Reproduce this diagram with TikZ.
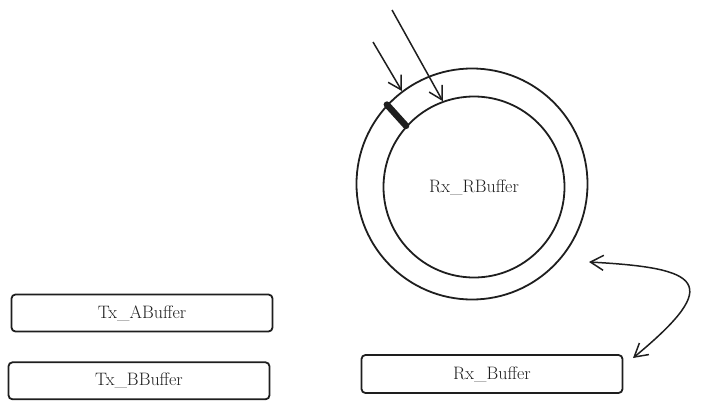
\documentclass[tikz,border=0pt]{standalone}
\usepackage{xcolor}
\usepackage{tikz}
\usetikzlibrary{arrows.meta,positioning}
\definecolor{tinta}{HTML}{1E1E1E}

\begin{document}
\begin{tikzpicture}[x=1pt,y=-1pt,
    caja/.style={draw=tinta,line width=1.8pt,rounded corners=4pt,
                 minimum width=261pt,minimum height=37pt,inner sep=0pt,
                 font=\fontsize{18}{20}\selectfont\color{tinta}},
    anillo/.style={draw=tinta,circle,line width=1.8pt,inner sep=0pt,
                   font=\fontsize{18}{20}\selectfont\color{tinta}},
    barb/.tip={Straight Barb[length=13pt,width=15pt]},
    flecha/.style={draw=tinta,line width=1.5pt,-barb}]
  \useasboundingbox (0,0) rectangle (702,407);
  % anillo de recepcion
  \node[anillo,minimum size=231pt] (ext) at (472,184) {};
  \node[anillo,minimum size=181pt] (int) at (474,187) {Rx\_RBuffer};
  \draw[tinta,line width=6.5pt,line cap=round] (ext.137) -- (int.138);
  % buffers
  \node[caja] (txa) at (142,313) {Tx\_ABuffer};
  \node[caja,below=29pt of txa,xshift=-3pt] (txb) {Tx\_BBuffer};
  \node[caja,minimum height=38pt] (rx) at (492,374) {Rx\_Buffer};
  % flechas
  \coordinate (ent1) at (373,42);
  \coordinate (ent2) at (392,10);
  \coordinate (ida) at (589,262);
  \coordinate (vuelta) at (633,358);
  \draw[flecha] (ent1) -- (ext.127);
  \draw[flecha] (ent2) -- (int.110);
  \draw[flecha,barb-barb] (ida) .. controls (700,268) and (725,282) .. (vuelta);
\end{tikzpicture}
\end{document}
